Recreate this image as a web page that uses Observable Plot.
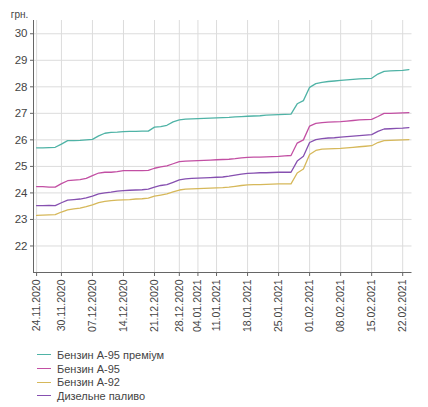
<!DOCTYPE html>
<html>
<head>
<meta charset="utf-8">
<script src="https://cdn.jsdelivr.net/npm/d3@7"></script>
<script src="https://cdn.jsdelivr.net/npm/@observablehq/plot@0.6"></script>
<style>
  body { margin: 0; background: #fff; font-family: "Liberation Sans", Arial, sans-serif; }
  #legend { margin: 3px 0 0 37px; font-size: 11px; color: #444; }
  #legend .row { display: flex; align-items: center; height: 13.7px; }
  #legend .sw { width: 14px; height: 0; border-top: 1.3px solid; margin-right: 6px; }
</style>
</head>
<body>
<div id="chart"></div>
<div id="legend"></div>
<script>
// Working-day dates (index positions on the x axis)
const dates = ["24.11.2020","25.11.2020","26.11.2020","27.11.2020","30.11.2020",
  "01.12.2020","02.12.2020","03.12.2020","04.12.2020","07.12.2020",
  "08.12.2020","09.12.2020","10.12.2020","11.12.2020","14.12.2020",
  "15.12.2020","16.12.2020","17.12.2020","18.12.2020","21.12.2020",
  "22.12.2020","23.12.2020","24.12.2020","28.12.2020","29.12.2020",
  "30.12.2020","04.01.2021","05.01.2021","06.01.2021","11.01.2021",
  "12.01.2021","13.01.2021","14.01.2021","15.01.2021","18.01.2021",
  "19.01.2021","20.01.2021","21.01.2021","22.01.2021","25.01.2021",
  "26.01.2021","27.01.2021","28.01.2021","29.01.2021","01.02.2021",
  "02.02.2021","03.02.2021","04.02.2021","05.02.2021","08.02.2021",
  "09.02.2021","10.02.2021","11.02.2021","12.02.2021","15.02.2021",
  "16.02.2021","17.02.2021","18.02.2021","19.02.2021","22.02.2021",
  "23.02.2021"];

const tickLabels = ["24.11.2020","30.11.2020","07.12.2020","14.12.2020","21.12.2020",
  "28.12.2020","04.01.2021","11.01.2021","18.01.2021","25.01.2021",
  "01.02.2021","08.02.2021","15.02.2021","22.02.2021"];

const yTicks = [22, 23, 24, 25, 26, 27, 28, 29, 30];

const seriesNames = ["Бензин А-95 преміум", "Бензин А-95", "Бензин А-92", "Дизельне паливо"];
const seriesColors = ["#4fb3a6", "#c24fa3", "#d6b85a", "#8650b0"];

const premium95 = [25.70,25.70,25.71,25.72,25.84,25.97,25.97,25.98,26.00,26.02,
  26.15,26.25,26.28,26.29,26.31,26.32,26.32,26.33,26.33,26.48,
  26.50,26.55,26.68,26.75,26.78,26.79,26.80,26.81,26.82,26.83,
  26.84,26.85,26.87,26.88,26.89,26.90,26.91,26.93,26.94,26.95,
  26.96,26.97,27.36,27.48,27.98,28.12,28.17,28.20,28.22,28.24,
  28.26,28.28,28.30,28.31,28.32,28.48,28.58,28.60,28.61,28.62,
  28.65];

const a95 = [24.24,24.24,24.22,24.22,24.35,24.46,24.48,24.50,24.55,24.65,
  24.75,24.78,24.78,24.80,24.84,24.84,24.84,24.84,24.85,24.93,
  24.98,25.02,25.10,25.18,25.20,25.21,25.22,25.23,25.24,25.25,
  25.26,25.27,25.29,25.32,25.34,25.35,25.35,25.36,25.37,25.38,
  25.40,25.41,25.88,26.00,26.52,26.62,26.65,26.67,26.68,26.69,
  26.71,26.73,26.75,26.76,26.77,26.88,27.00,27.00,27.01,27.02,
  27.03];

const a92 = [23.15,23.16,23.17,23.18,23.28,23.36,23.40,23.43,23.48,23.55,
  23.63,23.68,23.71,23.73,23.74,23.75,23.77,23.78,23.80,23.88,
  23.92,23.96,24.04,24.11,24.14,24.15,24.16,24.17,24.18,24.19,
  24.20,24.22,24.25,24.28,24.30,24.31,24.31,24.32,24.33,24.34,
  24.34,24.34,24.75,24.90,25.45,25.60,25.65,25.66,25.67,25.68,
  25.70,25.72,25.74,25.76,25.78,25.90,25.97,25.98,25.99,26.00,
  26.01];

const diesel = [23.52,23.52,23.53,23.52,23.63,23.73,23.75,23.77,23.81,23.88,
  23.96,24.00,24.03,24.07,24.09,24.10,24.11,24.12,24.14,24.22,
  24.28,24.31,24.40,24.49,24.53,24.55,24.56,24.57,24.58,24.59,
  24.60,24.63,24.67,24.71,24.74,24.75,24.76,24.76,24.77,24.78,
  24.78,24.78,25.20,25.38,25.90,26.01,26.05,26.07,26.08,26.10,
  26.12,26.14,26.16,26.18,26.20,26.32,26.41,26.42,26.43,26.44,
  26.46];

const seriesValues = [premium95, a95, a92, diesel];

const data = seriesNames.flatMap((name, s) =>
  seriesValues[s].map((v, i) => ({series: name, i, value: v})));

const tickIdx = tickLabels.map(l => dates.indexOf(l));

const chart = Plot.plot({
  width: 428,
  height: 345,
  marginLeft: 33,
  marginRight: 16.5,
  marginTop: 20,
  marginBottom: 73,
  style: {fontFamily: "Liberation Sans, Arial, sans-serif", color: "#444", background: "#fff"},
  x: {domain: [-0.5, 60.5]},
  y: {domain: [21, 30.5]},
  color: {domain: seriesNames, range: seriesColors},
  marks: [
    Plot.gridY(yTicks, {stroke: "#dcdcdc", strokeOpacity: 1}),
    Plot.gridX(tickIdx, {stroke: "#dcdcdc", strokeOpacity: 1, y1: 21, y2: 30.5}),
    Plot.axisY(yTicks, {tickSize: 3, tickPadding: 3, fontSize: 11.5, stroke: "#666", label: null}),
    Plot.axisX(tickIdx, {tickSize: 4, tickPadding: 3, tickRotate: -90, fontSize: 10.5,
      stroke: "#666", tickFormat: i => dates[i], label: null}),
    Plot.ruleX([-0.5], {stroke: "#666"}),
    Plot.ruleY([21], {stroke: "#666"}),
    Plot.line(data, {x: "i", y: "value", z: "series", stroke: "series", strokeWidth: 1.3}),
    Plot.text(["грн."], {x: -0.5, y: 30.5, dx: -14, dy: -6, fontSize: 10, fill: "#444"})
  ]
});
document.getElementById("chart").appendChild(chart);

const legend = document.getElementById("legend");
seriesNames.forEach((n, k) => {
  const row = document.createElement("div");
  row.className = "row";
  const sw = document.createElement("span");
  sw.className = "sw";
  sw.style.borderTopColor = seriesColors[k];
  const t = document.createElement("span");
  t.textContent = n;
  row.appendChild(sw);
  row.appendChild(t);
  legend.appendChild(row);
});
</script>
</body>
</html>
